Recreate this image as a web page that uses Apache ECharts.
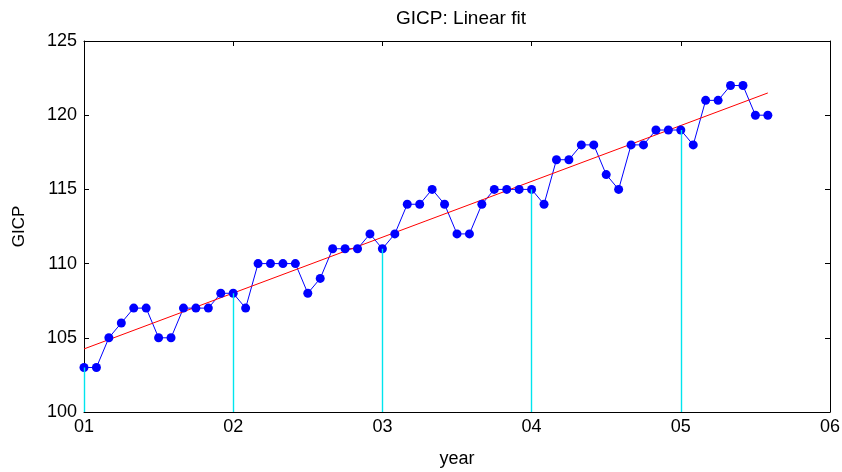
<!DOCTYPE html>
<html>
<head>
<meta charset="utf-8">
<script src="https://cdn.jsdelivr.net/npm/echarts@6/dist/echarts.min.js"></script>
<style>html,body{margin:0;padding:0;background:#fff}#c{width:842px;height:472px}</style>
</head>
<body>
<div id="c"></div>
<script>
// Monthly GICP values, Jan 2001 .. Aug 2005 (month index 0..55)
var gicp = [
  103,103,105,106,107,107,105,105,107,107,107,108,
  108,107,110,110,110,110,108,109,111,111,111,112,
  111,112,114,114,115,114,112,112,114,115,115,115,
  115,114,117,117,118,118,116,115,118,118,119,119,
  119,118,121,121,122,122,120,120
];
// Linear fit endpoints: [month index, value]
var fitStart = [0, 104.25];
var fitEnd = [55, 121.5];
// Year-start months marked with cyan stems
var stemMonths = [0, 12, 24, 36, 48];
var xTickLabels = ['01','02','03','04','05','06'];
var yMin = 100, yMax = 125, yStep = 5;
var xMin = 0, xMax = 60, xStep = 12;

var lineData = gicp.map(function(v,i){return [i,v];});
var stemLines = stemMonths.map(function(m){return [{coord:[m,yMin]},{coord:[m,gicp[m]]}];});

var font = 'Liberation Sans, Arial, sans-serif';
var axisCommon = {
  type:'value', splitLine:{show:false},
  axisLine:{show:true,onZero:false,lineStyle:{color:'#000',width:1}},
  axisTick:{show:true,inside:true,length:5,lineStyle:{color:'#000'}}
};
var chart = echarts.init(document.getElementById('c'), null, {renderer:'canvas'});
chart.setOption({
  animation:false,
  backgroundColor:'#fff',
  title:{text:'GICP: Linear fit',left:456,textAlign:'center',top:4,
    textStyle:{fontFamily:font,fontSize:19,fontWeight:'normal',color:'#000'}},
  grid:{left:84,right:12,top:41,bottom:60,containLabel:false,outerBoundsMode:'none'},
  xAxis:[
    Object.assign({},axisCommon,{position:'bottom',min:xMin,max:xMax,interval:xStep,
      name:'year',nameLocation:'middle',nameGap:38,
      nameTextStyle:{fontFamily:font,fontSize:18,color:'#000'},
      axisLabel:{margin:6,fontFamily:font,fontSize:18,color:'#000',
        formatter:function(v){return xTickLabels[Math.round(v/xStep)];}}}),
    Object.assign({},axisCommon,{position:'top',min:xMin,max:xMax,interval:xStep,axisLabel:{show:false}})
  ],
  yAxis:[
    Object.assign({},axisCommon,{position:'left',min:yMin,max:yMax,interval:yStep,
      name:'GICP',nameLocation:'middle',nameGap:56,nameRotate:90,
      nameTextStyle:{fontFamily:font,fontSize:17,color:'#000'},
      axisLabel:{margin:7,fontFamily:font,fontSize:18,color:'#000'}}),
    Object.assign({},axisCommon,{position:'right',min:yMin,max:yMax,interval:yStep,axisLabel:{show:false}})
  ],
  series:[
    {type:'line',data:[],silent:true,
      markLine:{silent:true,symbol:['none','none'],label:{show:false},
        lineStyle:{color:'#00e5ee',width:1.4,type:'solid'},data:stemLines}},
    {type:'line',data:lineData,symbol:'circle',symbolSize:9,
      lineStyle:{color:'#0000ff',width:1},itemStyle:{color:'#0000ff'}},
    {type:'line',data:[fitStart,fitEnd],symbol:'none',
      lineStyle:{color:'#ff0000',width:1}}
  ]
});
</script>
</body>
</html>
